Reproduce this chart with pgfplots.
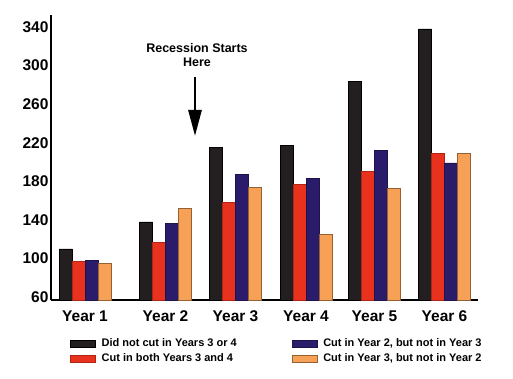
\documentclass[border=0pt]{standalone}
\usepackage{pgfplots}
\pgfplotsset{compat=1.18}
\usepackage{fontspec}
\setmainfont{Liberation Sans}
\usetikzlibrary{arrows.meta}
\definecolor{cblack}{HTML}{231F20}
\definecolor{cred}{HTML}{E8321E}
\definecolor{cnavy}{HTML}{2B1B6B}
\definecolor{corange}{HTML}{F7A157}
\begin{document}
\begin{tikzpicture}
\path[use as bounding box, fill=white] (0,0) rectangle (513bp,379bp);
\begin{axis}[
  at={(51bp,79bp)}, anchor=south west,
  scale only axis, width=427bp, height=285bp,
  xmin=51, xmax=478, ymin=56.9, ymax=352.5,
  axis x line=bottom, axis y line=left,
  axis line style={-, line width=2.2bp, black},
  major tick length=0pt,
  ytick={60,100,140,180,220,260,300,340},
  xtick={85,165.5,235.5,306,374.5,444.5},
  xticklabels={Year 1,Year 2,Year 3,Year 4,Year 5,Year 6},
  /pgf/number format/assume math mode=true,
  ticklabel style={font=\fontsize{15.5bp}{18bp}\selectfont\bfseries},
  yticklabel style={xshift=1bp},
  xticklabel style={yshift=-7bp},
  ybar, bar width=13,
  legend columns=2, transpose legend,
  legend cell align=left,
  legend style={at={(axis description cs:0.0445,-0.128)}, anchor=north west,
    draw=none, fill=none, inner sep=0pt,
    font=\fontsize{11bp}{13bp}\selectfont\bfseries,
    row sep=1.5bp,
    /tikz/every odd column/.append style={column sep=4bp},
    /tikz/every even column/.append style={column sep=53bp}},
  legend image code/.code={\fill[#1] (0bp,-3.6bp) rectangle (25bp,3.6bp);},
  clip=false,
]
\addplot[fill=cblack, draw=black, line width=0.5bp, bar shift=-19.5] coordinates {
 (85,110) (165.5,138) (235.5,215) (306,217) (374.5,284) (444.5,338)};
\addplot[fill=cred, draw=cred!75!black, line width=0.5bp, bar shift=-6.5] coordinates {
 (85,97) (165.5,117) (235.5,158) (306,177) (374.5,190) (444.5,209)};
\addplot[fill=cnavy, draw=cnavy!70!black, line width=0.5bp, bar shift=6.5] coordinates {
 (85,98) (165.5,136) (235.5,187) (306,183) (374.5,212) (444.5,199)};
\addplot[fill=corange, draw=corange!60!black, line width=0.5bp, bar shift=19.5] coordinates {
 (85,95) (165.5,152) (235.5,174) (306,125) (374.5,173) (444.5,209)};
\legend{Did not cut in Years 3 or 4,Cut in both Years 3 and 4,Cut in Year 2{,} but not in Year 3,Cut in Year 3{,} but not in Year 2}
\node[font=\fontsize{12.5bp}{14bp}\selectfont\bfseries, align=center] at (axis cs:197,311) {Recession Starts\\Here};
\draw[line width=2.8bp, -{Triangle[width=13bp,length=26bp]}] (axis cs:195,288) -- (axis cs:195,227);
\end{axis}
\end{tikzpicture}
\end{document}
